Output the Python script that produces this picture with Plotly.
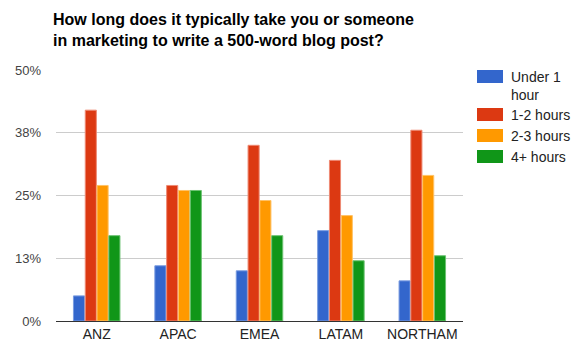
import plotly.graph_objects as go

regions = ["ANZ", "APAC", "EMEA", "LATAM", "NORTHAM"]
series_names = ["Under 1 hour", "1-2 hours", "2-3 hours", "4+ hours"]
legend_labels = ["Under 1<br>hour", "1-2 hours", "2-3 hours", "4+ hours"]
under_1_hour = [5, 11, 10, 18, 8]
one_to_two_hours = [42, 27, 35, 32, 38]
two_to_three_hours = [27, 26, 24, 21, 29]
four_plus_hours = [17, 26, 17, 12, 13]
tick_values = [0, 12.5, 25, 37.5, 50]
tick_labels = ["0%", "13%", "25%", "38%", "50%"]

colors = ["#3366cc", "#dc3912", "#ff9900", "#109618"]
edge_colors = ["#7a9ce0", "#ee8a74", "#ffc266", "#6cc272"]
values = [under_1_hour, one_to_two_hours, two_to_three_hours, four_plus_hours]

FONT = "Liberation Sans, Arial, sans-serif"

fig = go.Figure()
for name, vals, c, ec in zip(series_names, values, colors, edge_colors):
    fig.add_trace(go.Bar(
        x=regions, y=vals, name=name,
        marker=dict(color=c, line=dict(color=ec, width=1)),
        showlegend=False,
    ))

# plot area in pixels: x 56..463, y 70..321
L, R, T, B = 56, 463, 70, 321
W, H = 576, 348


def px_x(p):
    return (p - L) / (R - L)


def px_y(p):
    return (B - p) / (B - T)


shapes = []
annotations = []
legend_rows = [(70, 76), (108, 115), (129, 136), (150, 157)]
for (top, ty), lab, c in zip(legend_rows, legend_labels, colors):
    shapes.append(dict(
        type="rect", xref="paper", yref="paper",
        x0=px_x(477), x1=px_x(503), y0=px_y(top + 13), y1=px_y(top),
        fillcolor=c, line=dict(width=0),
    ))
    annotations.append(dict(
        text=lab, xref="paper", yref="paper",
        x=px_x(509), y=px_y(top - 3), xanchor="left", yanchor="top",
        align="left", showarrow=False,
        font=dict(family=FONT, size=14, color="#222222"),
    ))

annotations.append(dict(
    text="<b>How long does it typically take you or someone<br>in marketing to write a 500-word blog post?</b>",
    xref="paper", yref="paper", x=px_x(51), y=px_y(9),
    xanchor="left", yanchor="top", align="left", showarrow=False,
    font=dict(family=FONT, size=16, color="#000000"),
))

fig.update_layout(
    width=W, height=H,
    margin=dict(l=L, r=W - R, t=T, b=H - B, pad=0),
    paper_bgcolor="white", plot_bgcolor="white",
    barmode="group", bargap=0.42, bargroupgap=0.06,
    font=dict(family=FONT, size=14, color="#444444"),
    shapes=shapes, annotations=annotations,
    xaxis=dict(
        showgrid=False, showline=True, linecolor="#333333", linewidth=1,
        ticks="", tickfont=dict(size=14, color="#222222"),
        automargin=False,
    ),
    yaxis=dict(
        range=[0, 50], tickvals=tick_values, ticktext=tick_labels,
        showgrid=True, gridcolor="#cccccc", gridwidth=1,
        zeroline=False, showline=False, ticks="",
        tickfont=dict(size=13, color="#444444"), ticklabelstandoff=14,
        automargin=False,
    ),
)

fig.write_html("out.html")
